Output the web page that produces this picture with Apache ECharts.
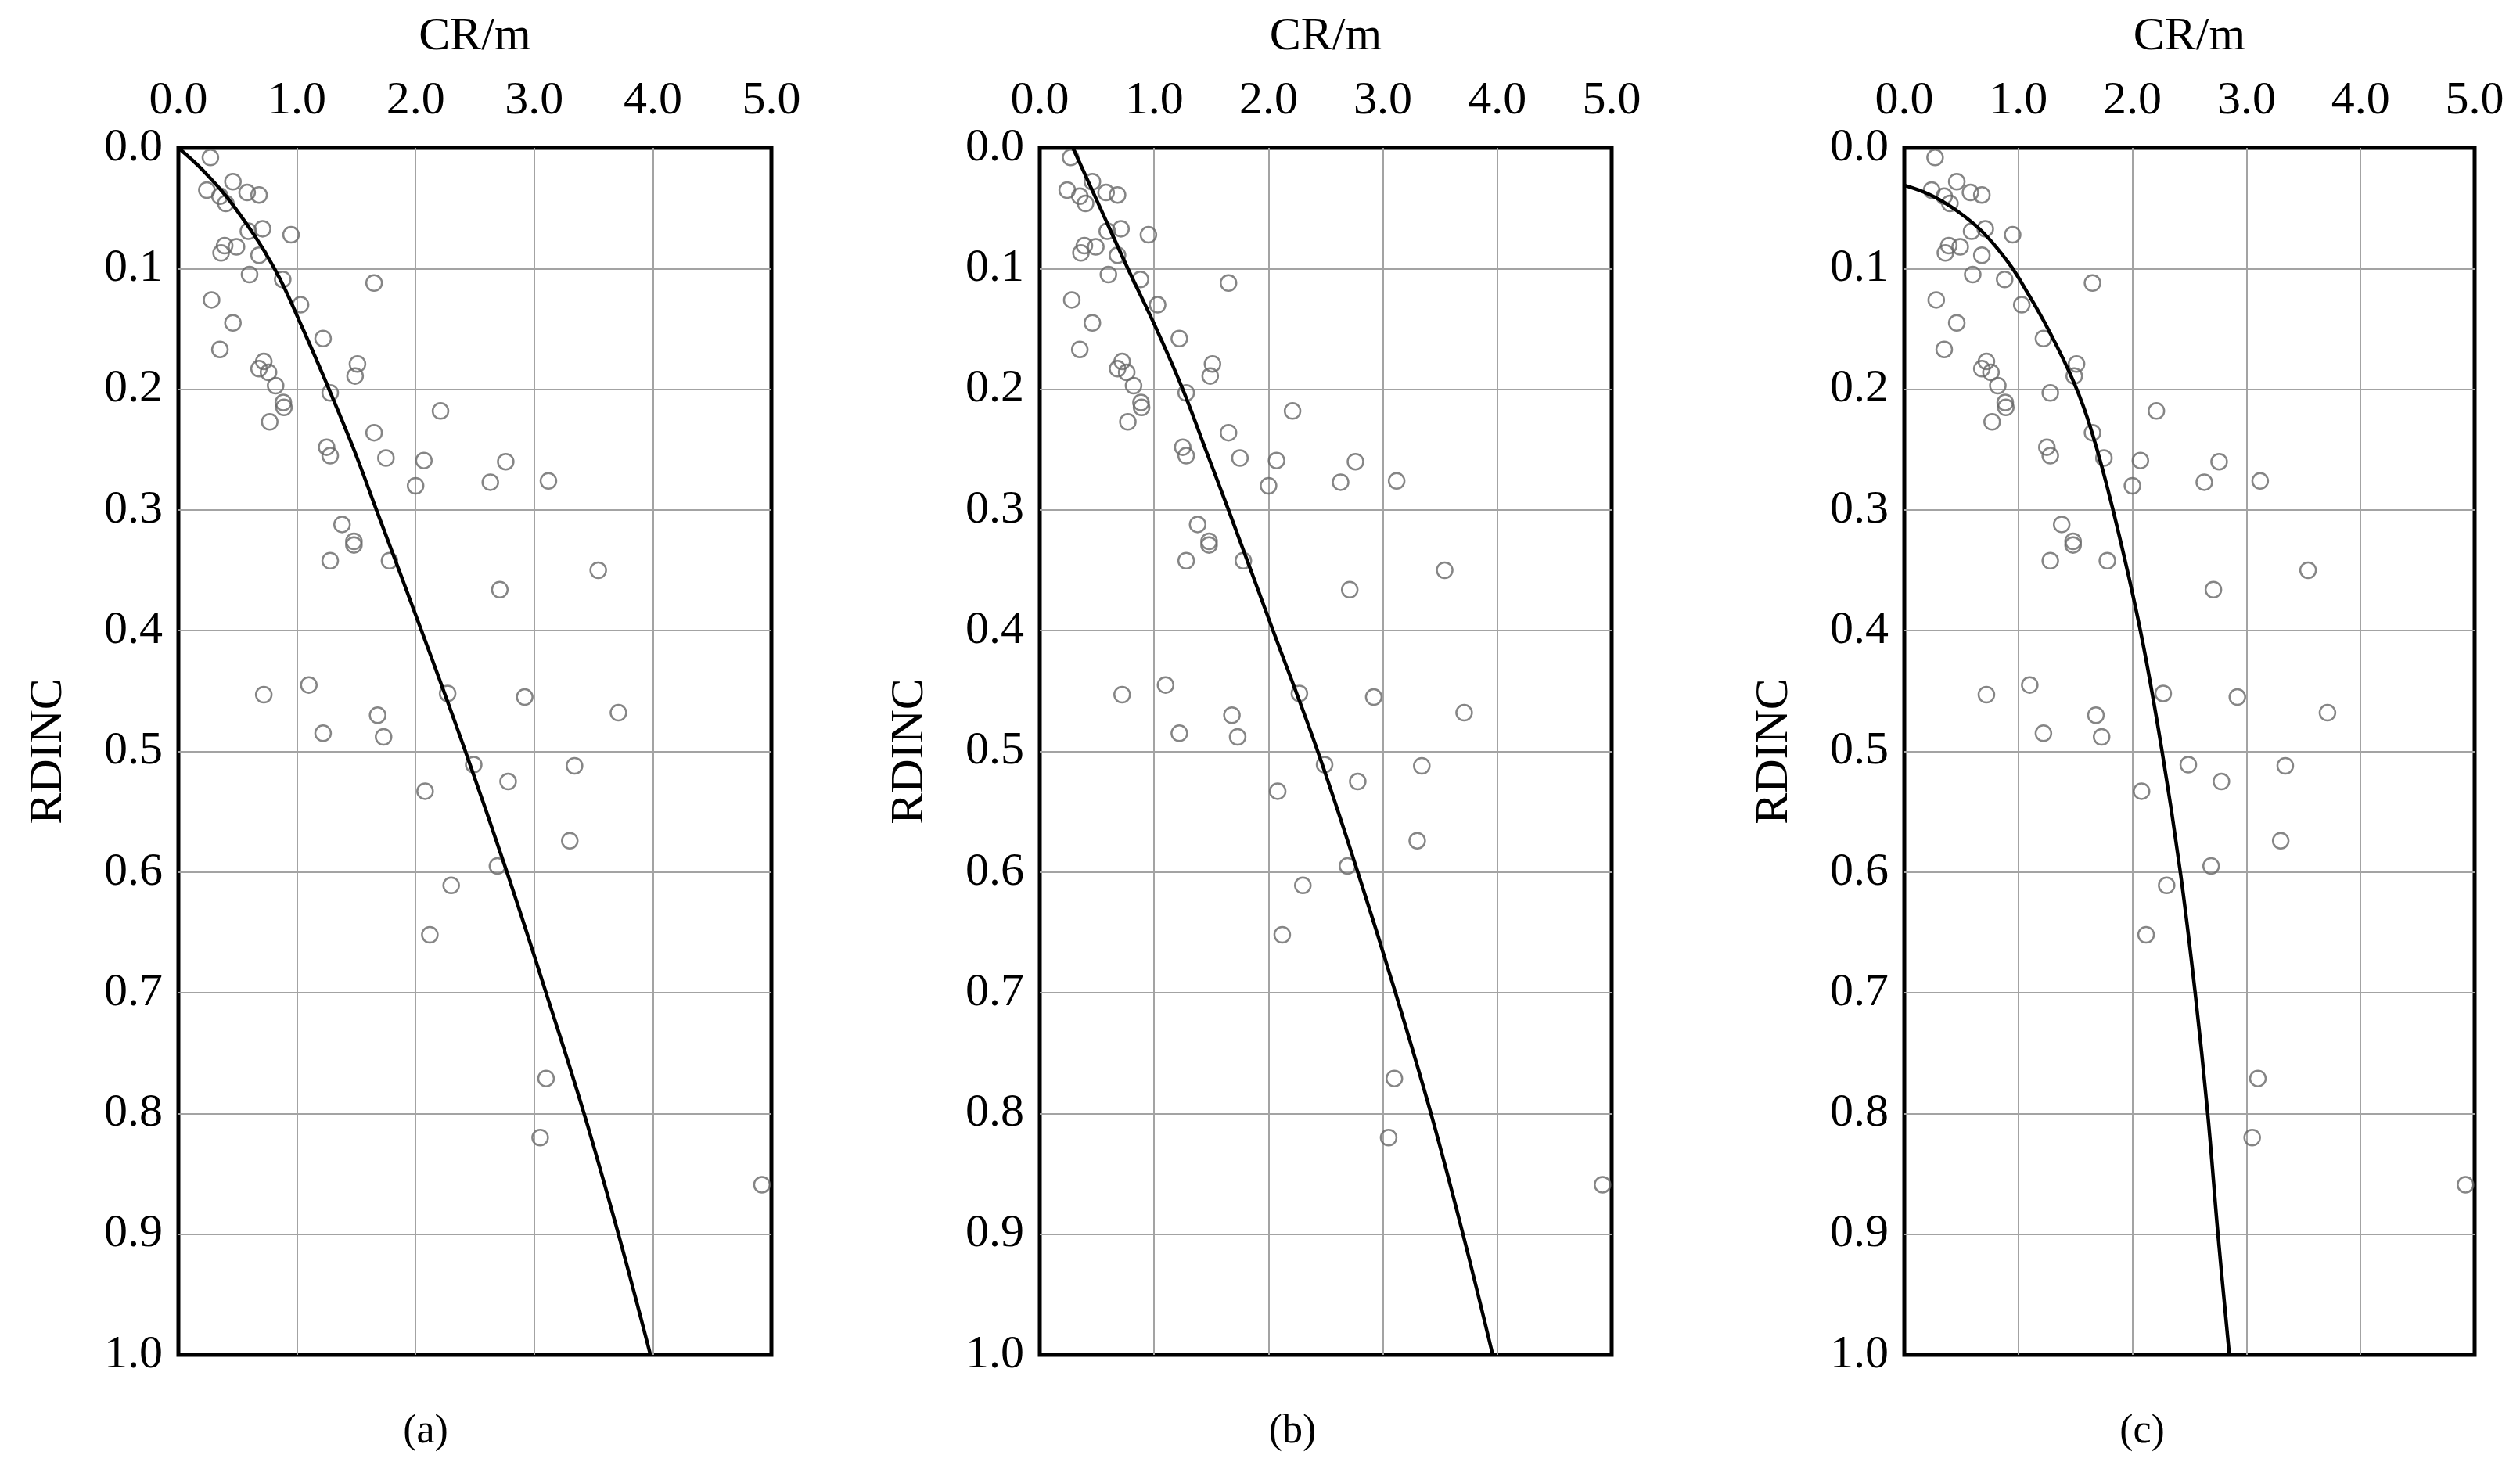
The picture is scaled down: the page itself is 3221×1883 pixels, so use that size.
<!DOCTYPE html>
<html lang="en">
<head>
<meta charset="UTF-8">
<title>CR vs RDINC</title>
<script src="https://cdn.jsdelivr.net/npm/echarts/dist/echarts.min.js"></script>
<style>
body {margin: 0; padding: 0; background-color: white;}
#main {width: 3221px; height: 1883px;}
</style>
</head>
<body>
<div id="main"></div>
<script>
// measured points (same in all three panels)
var pointCR = [0.27, 0.46, 0.24, 0.35, 0.40, 0.58, 0.68, 0.59, 0.71, 0.95,
    0.39, 0.49, 0.36, 0.68, 0.60, 0.88, 1.65, 0.28, 1.03, 0.46,
    1.22, 0.35, 0.72, 1.51, 0.68, 0.76, 1.49, 0.82, 1.28, 0.885,
    0.89, 2.21, 0.77, 1.65, 1.25, 1.28, 1.75, 2.07, 2.76, 2.00,
    2.63, 3.12, 1.38, 1.48, 1.48, 1.28, 1.78, 3.54, 2.71, 1.10,
    0.72, 2.27, 2.92, 3.71, 1.68, 1.22, 1.73, 2.49, 3.34, 2.78,
    2.08, 3.30, 2.69, 2.30, 2.12, 3.10, 3.05, 4.92];
var pointRDINC = [0.008, 0.028, 0.035, 0.040, 0.046, 0.037, 0.039, 0.069, 0.067, 0.072,
    0.081, 0.082, 0.087, 0.089, 0.105, 0.109, 0.112, 0.126, 0.130, 0.145,
    0.158, 0.167, 0.177, 0.179, 0.183, 0.186, 0.189, 0.197, 0.203, 0.211,
    0.215, 0.218, 0.227, 0.236, 0.248, 0.255, 0.257, 0.259, 0.260, 0.280,
    0.277, 0.276, 0.312, 0.326, 0.329, 0.342, 0.342, 0.350, 0.366, 0.445,
    0.453, 0.452, 0.455, 0.468, 0.470, 0.485, 0.488, 0.511, 0.512, 0.525,
    0.533, 0.574, 0.595, 0.611, 0.652, 0.771, 0.820, 0.859];

// fitted curves
var curveA_CR = [0, 0.22, 0.48, 0.81, 1.05, 1.27, 1.48, 1.67, 2.05, 2.42, 2.77, 3.10, 3.42, 3.71, 3.98];
var curveA_RDINC = [0, 0.02, 0.05, 0.1, 0.15, 0.2, 0.25, 0.3, 0.4, 0.5, 0.6, 0.7, 0.8, 0.9, 1.0];

var curveB_CR = [0.29, 0.53, 0.77, 1.02, 1.25, 1.45, 1.65, 2.04, 2.43, 2.78, 3.11, 3.42, 3.70, 3.96];
var curveB_RDINC = [0, 0.05, 0.1, 0.15, 0.2, 0.25, 0.3, 0.4, 0.5, 0.6, 0.7, 0.8, 0.9, 1.0];

var curveC_CR = [0, 0.23, 0.46, 0.69, 0.92, 1.08, 1.26, 1.49, 1.64, 1.83, 2.07, 2.26, 2.42, 2.55, 2.66, 2.75, 2.85];
var curveC_RDINC = [0.031, 0.039, 0.052, 0.070, 0.096, 0.12, 0.150, 0.195, 0.234, 0.30, 0.40, 0.50, 0.60, 0.70, 0.80, 0.90, 1.00];

var panelNames = ['(a)', '(b)', '(c)'];

function pairs(xs, ys) {
    var out = [];
    for (var i = 0; i < xs.length; i++) {
        out.push([xs[i], ys[i]]);
    }
    return out;
}

var points = pairs(pointCR, pointRDINC);
var curves = [
    pairs(curveA_CR, curveA_RDINC),
    pairs(curveB_CR, curveB_RDINC),
    pairs(curveC_CR, curveC_RDINC)
];

var font = 'Liberation Serif';
var grids = [
    {left: 228, top: 189, width: 758, height: 1543},
    {left: 1329, top: 189, width: 731, height: 1543},
    {left: 2434, top: 189, width: 729, height: 1543}
];
var captionX = [544, 1652, 2738];

var xAxes = [], yAxes = [], series = [], graphics = [];
grids.forEach(function (g, i) {
    g.show = true;
    g.borderColor = '#000';
    g.borderWidth = 5;
    g.backgroundColor = 'transparent';

    xAxes.push({
        type: 'value', gridIndex: i, position: 'top',
        min: 0, max: 5, interval: 1,
        name: 'CR/m', nameLocation: 'middle', nameGap: 112,
        nameTextStyle: {fontFamily: font, fontSize: 60, color: '#000'},
        axisLine: {show: false},
        axisTick: {show: false},
        axisLabel: {
            margin: 30, fontFamily: font, fontSize: 60, color: '#000',
            formatter: function (v) { return v.toFixed(1); }
        },
        splitLine: {
            show: true, showMinLine: false, showMaxLine: false,
            lineStyle: {color: '#a3a3a3', width: 2}
        }
    });
    yAxes.push({
        type: 'value', gridIndex: i, inverse: true,
        min: 0, max: 1, interval: 0.1,
        name: 'RDINC', nameLocation: 'middle', nameGap: 136, nameRotate: 90,
        nameTextStyle: {fontFamily: font, fontSize: 60, color: '#000'},
        axisLine: {show: false},
        axisTick: {show: false},
        axisLabel: {
            margin: 20, fontFamily: font, fontSize: 60, color: '#000',
            formatter: function (v) { return v.toFixed(1); }
        },
        splitLine: {
            show: true, showMinLine: false, showMaxLine: false,
            lineStyle: {color: '#a3a3a3', width: 2}
        }
    });
    series.push({
        type: 'scatter', xAxisIndex: i, yAxisIndex: i,
        data: points,
        symbol: 'circle', symbolSize: 20,
        itemStyle: {color: 'rgba(255,255,255,0)', borderColor: '#666', borderWidth: 2.5}
    });
    series.push({
        type: 'line', xAxisIndex: i, yAxisIndex: i,
        data: curves[i],
        showSymbol: false, smooth: 0.4,
        lineStyle: {color: '#000', width: 4.5}
    });
    graphics.push({
        type: 'text', x: captionX[i], y: 1830,
        style: {
            text: panelNames[i], font: '52px "Liberation Serif"', fill: '#000',
            textAlign: 'center', textVerticalAlign: 'middle'
        }
    });
});

var chart = echarts.init(document.getElementById('main'));
chart.setOption({
    animation: false,
    backgroundColor: '#fff',
    grid: grids,
    xAxis: xAxes,
    yAxis: yAxes,
    series: series,
    graphic: graphics
});
</script>
</body>
</html>
